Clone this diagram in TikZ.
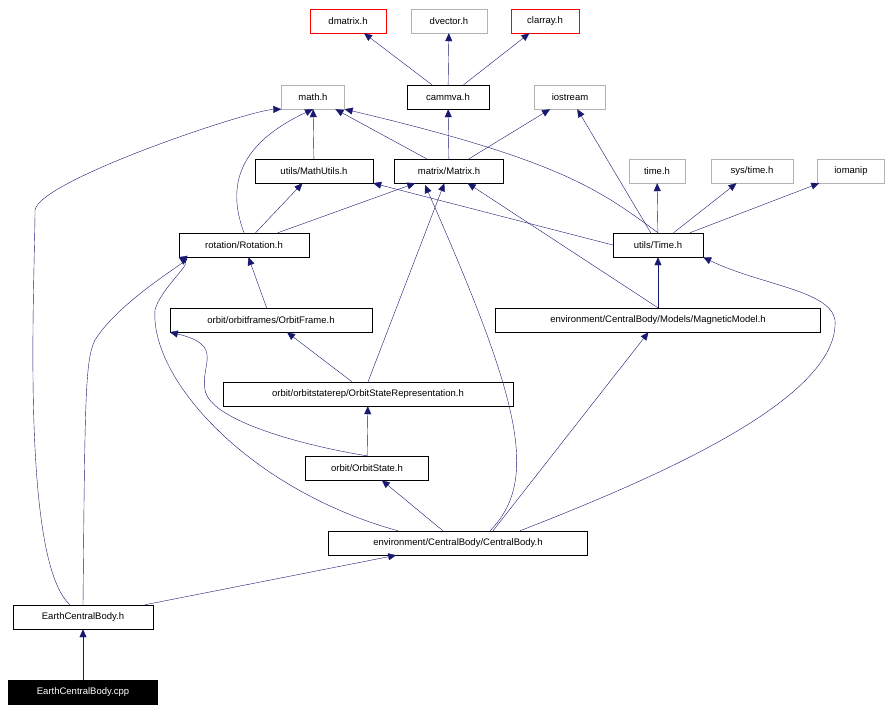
\documentclass[tikz,border=0pt]{standalone}
\usepackage{fontspec}
\setmainfont{Liberation Sans}
\usetikzlibrary{arrows.meta}
\definecolor{edge-blue}{RGB}{25,25,112}

\begin{document}
\begin{tikzpicture}[x=1pt, y=-1pt,
    hdr/.style={rectangle, draw=black, fill=white, minimum height=24pt, inner xsep=5pt, font=\fontsize{9.5}{10}\selectfont},
    ext/.style={hdr, draw=gray!60},
    bad/.style={hdr, draw=red},
    src/.style={hdr, fill=black, text=white},
    dep/.style={-{Triangle[length=8pt,width=7pt,fill=edge-blue]}, draw=edge-blue}
]
\useasboundingbox (0,0) rectangle (892,713);

% external headers
\node[bad, minimum width=76pt] (dmatrix) at (348,21) {dmatrix.h};
\node[ext, minimum width=76pt] (dvector) at (449,21) {dvector.h};
\node[bad, draw=red, minimum width=68pt] (clarray) at (545,21) {clarray.h};
\node[ext, minimum width=63pt] (math) at (313,97) {math.h};
\node[hdr, minimum width=82pt] (cammva) at (448,97) {cammva.h};
\node[ext, minimum width=71pt] (iostream) at (570,97) {iostream};
\node[ext, minimum width=56pt] (timeh) at (657,171) {time.h};
\node[ext, minimum width=82pt] (systime) at (752,171) {sys/time.h};
\node[ext, minimum width=67pt] (iomanip) at (851,171) {iomanip};

% project headers
\node[hdr, minimum width=118pt] (mathutils) at (314,171) {utils/MathUtils.h};
\node[hdr, minimum width=109pt] (matrix) at (449,171) {matrix/Matrix.h};
\node[hdr, minimum width=130pt] (rotation) at (244,245) {rotation/Rotation.h};
\node[hdr, minimum width=90pt] (utime) at (658,245) {utils/Time.h};
\node[hdr, minimum width=202pt] (frame) at (271,320) {orbit/orbitframes/OrbitFrame.h};
\node[hdr, minimum width=325pt] (magnetic) at (658,320) {environment/CentralBody/Models/MagneticModel.h};
\node[hdr, minimum width=290pt] (staterep) at (368,394) {orbit/orbitstaterep/OrbitStateRepresentation.h};
\node[hdr, minimum width=123pt] (state) at (367,468) {orbit/OrbitState.h};
\node[hdr, minimum width=259pt] (central) at (458,543) {environment/CentralBody/CentralBody.h};
\node[hdr, minimum width=140pt] (earth) at (83,617) {EarthCentralBody.h};
\node[src, minimum width=149pt] (cpp) at (83,692) {EarthCentralBody.cpp};

% dependencies
\draw[dep] (cammva) -- (dmatrix);
\draw[dep] (cammva) -- (dvector);
\draw[dep] (cammva) -- (clarray);
\draw[dep] (matrix) -- (cammva);
\draw[dep] (matrix) -- (math);
\draw[dep] (matrix) -- (iostream);
\draw[dep] (mathutils) -- (math);
\draw[dep] (rotation.north) .. controls (232,200) and (225,150) .. (math.south);
\draw[dep] (rotation) -- (mathutils);
\draw[dep] (rotation) -- (matrix);
\draw[dep] (utime.north) .. controls (600,190) and (560,160) .. (math.south east);
\draw[dep] (utime) -- (iostream);
\draw[dep] (utime) -- (timeh);
\draw[dep] (utime) -- (systime);
\draw[dep] (utime) -- (iomanip);
\draw[dep] (utime.west) -- (mathutils.south east);
\draw[dep] (frame) -- (rotation);
\draw[dep] (magnetic) -- (utime);
\draw[dep] (magnetic.north) -- (matrix);
\draw[dep] (staterep) -- (frame);
\draw[dep] (staterep.north) -- (matrix);
\draw[dep] (state) -- (staterep);
\draw[dep] (state.north) .. controls (300,445) and (210,420) .. (205,390) .. controls (200,365) and (225,345) .. (frame.south west);
\draw[dep] ([xshift=-15pt]central.north) -- (state);
\draw[dep] ([xshift=-60pt]central.north) .. controls (250,490) and (150,380) .. (155,310) .. controls (160,290) and (190,265) .. (rotation.south west);
\draw[dep] ([xshift=32pt]central.north) .. controls (540,480) and (520,400) .. (425,185);
\draw[dep] ([xshift=35pt]central.north) -- (magnetic);
\draw[dep] ([xshift=62pt]central.north) .. controls (650,480) and (840,400) .. (835,320) .. controls (830,290) and (760,285) .. (utime.south east);
\draw[dep] ([xshift=-13pt]earth.north) .. controls (20,560) and (35,280) .. (35,210) .. controls (40,180) and (250,110) .. (math.south west);
\draw[dep] (earth.north) .. controls (85,400) and (85,360) .. (95,340) .. controls (120,300) and (190,260) .. (rotation.south west);
\draw[dep] (earth) -- (central);
\draw[dep] (cpp) -- (earth);

\end{tikzpicture}
\end{document}
